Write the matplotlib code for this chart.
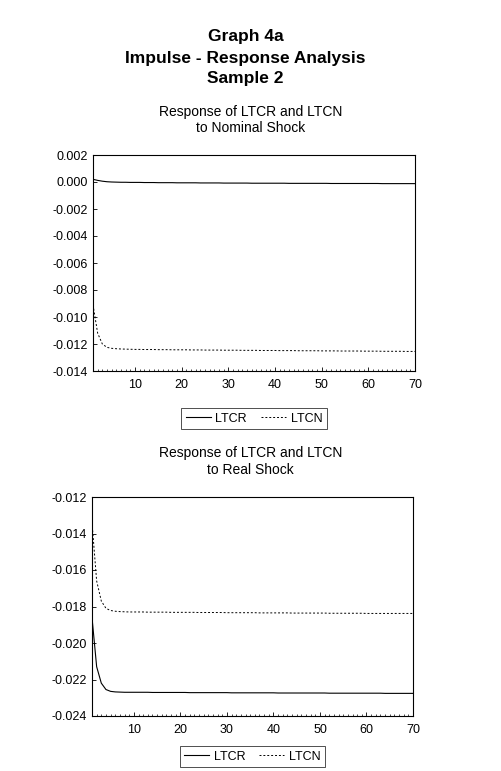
import numpy as np
import matplotlib
matplotlib.use('Agg')
import matplotlib.pyplot as plt
from matplotlib.ticker import MultipleLocator

plt.rcParams['font.family'] = ['Liberation Sans', 'DejaVu Sans']

periods = np.arange(1, 71)

# nominal shock responses
nom_ltcr = [0.00020, 0.00012, 0.00006, 0.00002, 0.00000, -0.00001, -0.00002, -0.00002, -0.00003, -0.00003,
            -0.00003, -0.00004, -0.00004, -0.00004, -0.00005, -0.00005, -0.00005, -0.00005, -0.00006, -0.00006,
            -0.00006, -0.00006, -0.00006, -0.00007, -0.00007, -0.00007, -0.00007, -0.00007, -0.00008, -0.00008,
            -0.00008, -0.00008, -0.00008, -0.00008, -0.00009, -0.00009, -0.00009, -0.00009, -0.00009, -0.00009,
            -0.00009, -0.00009, -0.00010, -0.00010, -0.00010, -0.00010, -0.00010, -0.00010, -0.00010, -0.00010,
            -0.00010, -0.00011, -0.00011, -0.00011, -0.00011, -0.00011, -0.00011, -0.00011, -0.00011, -0.00011,
            -0.00011, -0.00011, -0.00012, -0.00012, -0.00012, -0.00012, -0.00012, -0.00012, -0.00012, -0.00012]
nom_ltcn = [-0.00910, -0.01120, -0.01200, -0.01225, -0.01232, -0.01235, -0.01237, -0.01238, -0.01239, -0.01240,
            -0.01240, -0.01241, -0.01241, -0.01241, -0.01242, -0.01242, -0.01242, -0.01243, -0.01243, -0.01243,
            -0.01243, -0.01244, -0.01244, -0.01244, -0.01245, -0.01245, -0.01245, -0.01245, -0.01246, -0.01246,
            -0.01246, -0.01246, -0.01247, -0.01247, -0.01247, -0.01247, -0.01248, -0.01248, -0.01248, -0.01248,
            -0.01249, -0.01249, -0.01249, -0.01249, -0.01250, -0.01250, -0.01250, -0.01250, -0.01250, -0.01251,
            -0.01251, -0.01251, -0.01251, -0.01252, -0.01252, -0.01252, -0.01252, -0.01252, -0.01253, -0.01253,
            -0.01253, -0.01253, -0.01254, -0.01254, -0.01254, -0.01254, -0.01254, -0.01255, -0.01255, -0.01255]

# real shock responses
real_ltcr = [-0.01860, -0.02130, -0.02220, -0.02255, -0.02265, -0.02268, -0.02269, -0.02270, -0.02270, -0.02270,
             -0.02270, -0.02270, -0.02270, -0.02271, -0.02271, -0.02271, -0.02271, -0.02271, -0.02271, -0.02271,
             -0.02271, -0.02272, -0.02272, -0.02272, -0.02272, -0.02272, -0.02272, -0.02272, -0.02272, -0.02272,
             -0.02273, -0.02273, -0.02273, -0.02273, -0.02273, -0.02273, -0.02273, -0.02273, -0.02273, -0.02273,
             -0.02274, -0.02274, -0.02274, -0.02274, -0.02274, -0.02274, -0.02274, -0.02274, -0.02274, -0.02274,
             -0.02274, -0.02275, -0.02275, -0.02275, -0.02275, -0.02275, -0.02275, -0.02275, -0.02275, -0.02275,
             -0.02275, -0.02275, -0.02275, -0.02276, -0.02276, -0.02276, -0.02276, -0.02276, -0.02276, -0.02276]
real_ltcn = [-0.01340, -0.01660, -0.01770, -0.01810, -0.01822, -0.01826, -0.01828, -0.01829, -0.01830, -0.01830,
             -0.01830, -0.01830, -0.01831, -0.01831, -0.01831, -0.01831, -0.01831, -0.01832, -0.01832, -0.01832,
             -0.01832, -0.01832, -0.01832, -0.01833, -0.01833, -0.01833, -0.01833, -0.01833, -0.01833, -0.01834,
             -0.01834, -0.01834, -0.01834, -0.01834, -0.01834, -0.01834, -0.01835, -0.01835, -0.01835, -0.01835,
             -0.01835, -0.01835, -0.01835, -0.01836, -0.01836, -0.01836, -0.01836, -0.01836, -0.01836, -0.01836,
             -0.01836, -0.01837, -0.01837, -0.01837, -0.01837, -0.01837, -0.01837, -0.01837, -0.01837, -0.01838,
             -0.01838, -0.01838, -0.01838, -0.01838, -0.01838, -0.01838, -0.01838, -0.01838, -0.01838, -0.01838]

top_yticks = np.arange(-0.014, 0.0021, 0.002)
bot_yticks = np.arange(-0.024, -0.0119, 0.002)
xticks = [10, 20, 30, 40, 50, 60, 70]

fig = plt.figure(figsize=(5.01, 7.71), dpi=100)

fig.text(0.49, 1 - 37/771, 'Graph 4a', ha='center', va='center', fontsize=12.5, fontweight='bold')
fig.text(0.49, 1 - 58/771, 'Impulse - Response Analysis', ha='center', va='center', fontsize=12.5, fontweight='bold')
fig.text(0.49, 1 - 78/771, 'Sample 2', ha='center', va='center', fontsize=12.5, fontweight='bold')

fig.text(0.50, 1 - 112/771, 'Response of LTCR and LTCN', ha='center', va='center', fontsize=10)
fig.text(0.50, 1 - 128/771, 'to Nominal Shock', ha='center', va='center', fontsize=10)
fig.text(0.50, 1 - 453/771, 'Response of LTCR and LTCN', ha='center', va='center', fontsize=10)
fig.text(0.50, 1 - 470/771, 'to Real Shock', ha='center', va='center', fontsize=10)


def draw_panel(rect, ltcr, ltcn, yticks, ylim, leg_y):
    ax = fig.add_axes(rect)
    ax.plot(periods, ltcr, color='black', lw=0.8, label='LTCR')
    ax.plot(periods, ltcn, color='black', lw=0.7, linestyle=(0, (2, 2)), label='LTCN')
    ax.set_xlim(1, 70)
    ax.set_ylim(*ylim)
    ax.set_xticks(xticks)
    ax.xaxis.set_minor_locator(MultipleLocator(1))
    ax.set_yticks(yticks)
    ax.set_yticklabels(['%.3f' % v if abs(v) > 1e-9 else '0.000' for v in yticks])
    ax.tick_params(direction='in', labelsize=9, length=3, width=0.6)
    ax.tick_params(axis='x', pad=6)
    ax.tick_params(axis='y', pad=4)
    ax.tick_params(which='minor', direction='in', length=1.5, width=0.5)
    for s in ax.spines.values():
        s.set_linewidth(0.8)
    leg = ax.legend(loc='center', bbox_to_anchor=(0.50, leg_y), ncol=2, fontsize=9,
                    frameon=True, fancybox=False, edgecolor='black', handlelength=2.0,
                    columnspacing=1.1, borderpad=0.35, handletextpad=0.4)
    leg.get_frame().set_linewidth(0.6)
    return ax


draw_panel([93/501, 1 - 371/771, 322/501, 216/771], nom_ltcr, nom_ltcn,
           top_yticks, (-0.014, 0.002), -0.22)
draw_panel([92/501, 1 - 716/771, 321/501, 219/771], real_ltcr, real_ltcn,
           bot_yticks, (-0.024, -0.012), -0.185)

fig.savefig('out.png', dpi=100)
